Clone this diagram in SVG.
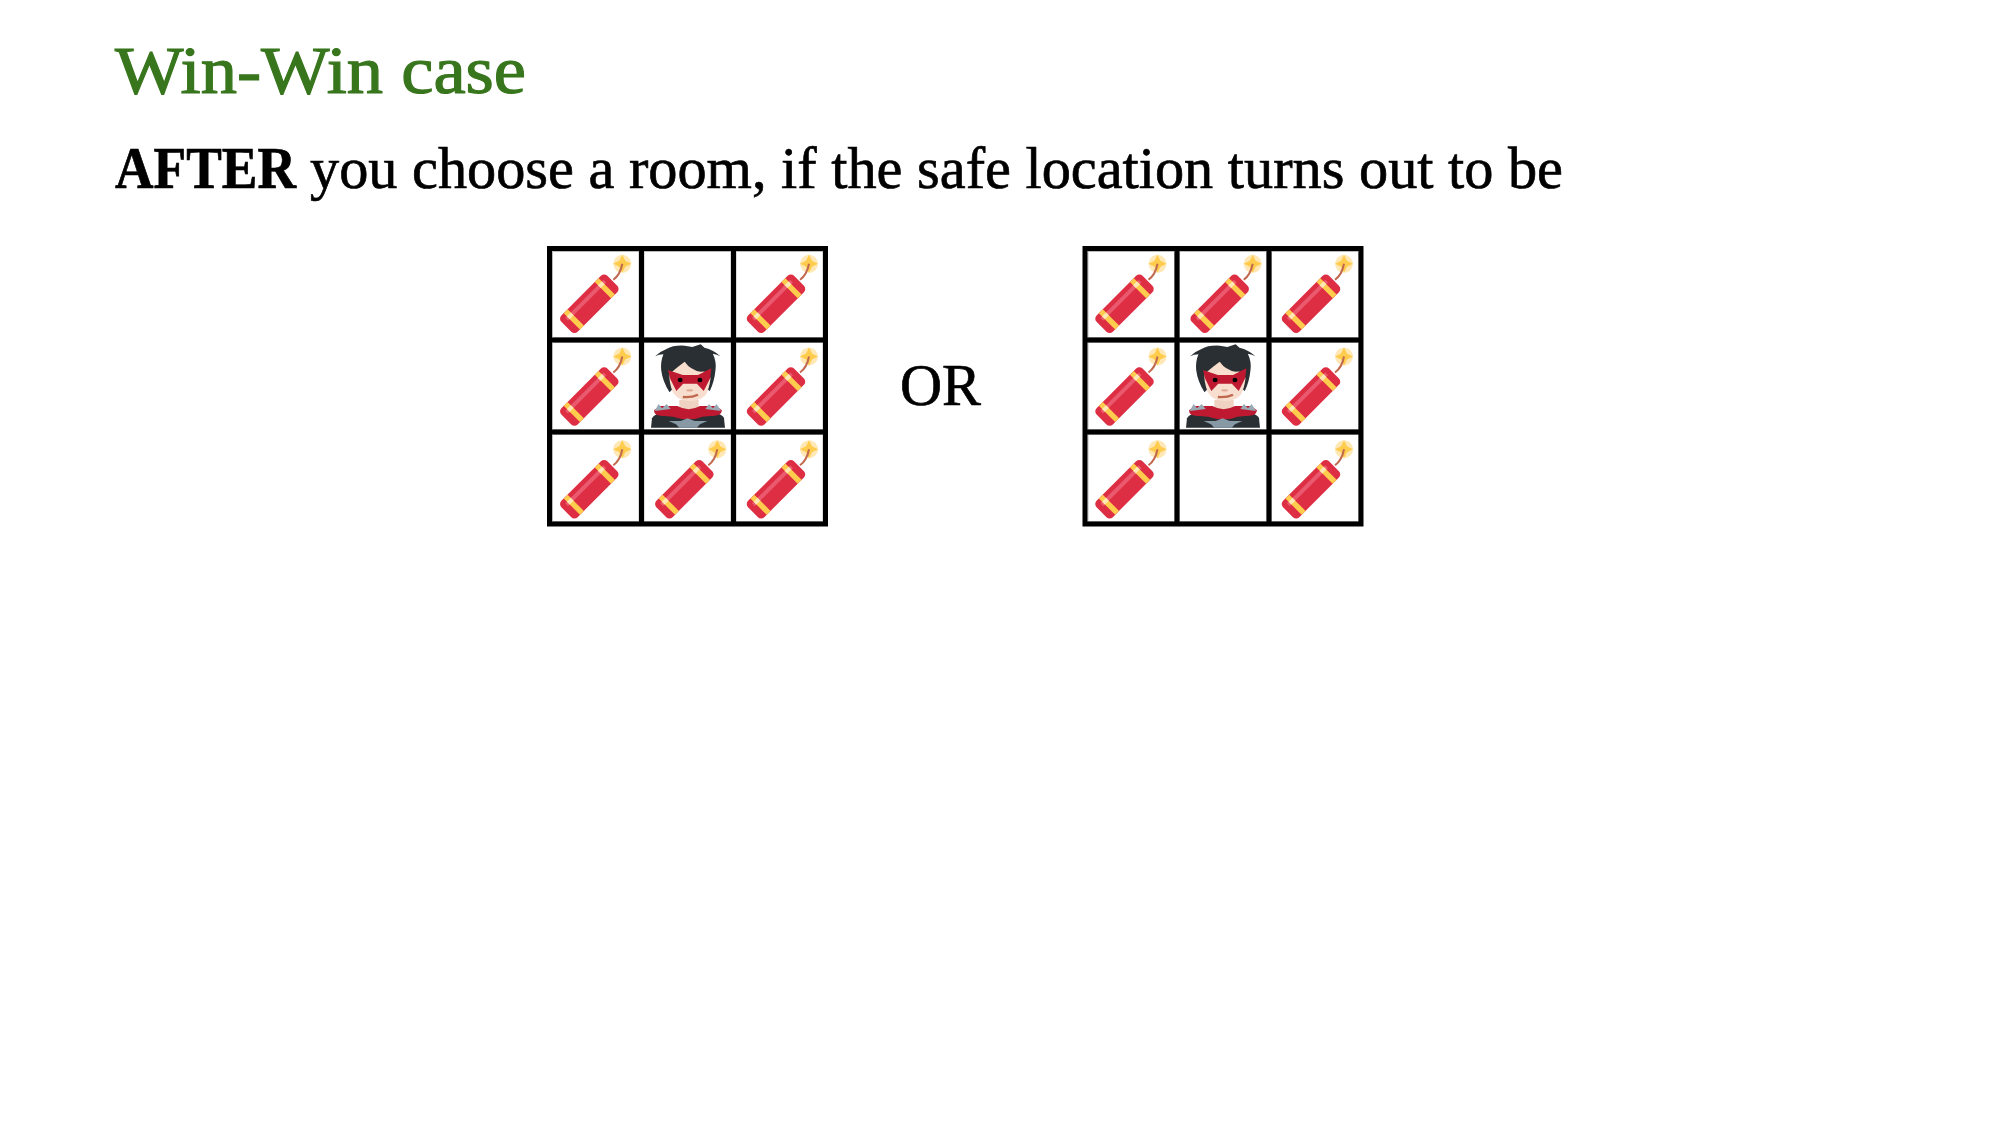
<svg xmlns="http://www.w3.org/2000/svg" width="2000" height="1125" viewBox="0 0 2000 1125">
<style>
text{font-family:"Liberation Serif","Times New Roman",serif;fill:#000}
.title{font-size:68px;fill:#38761d;stroke:#38761d;stroke-width:1.2px}
.body{font-size:60px;stroke:#000;stroke-width:.7px}
.b{font-weight:bold}
.grid{fill:none;stroke:#000;stroke-width:5}
.cell{fill:none;stroke:#bbb;stroke-width:1}
</style>
<defs>
<g id="dyn">
<circle cx="33" cy="-40" r="9" fill="#FFE8B6"/>
<path d="M33-49L36-43 42-40 36-37 33-31 30-37 24-40 30-43Z" fill="#FFCC4D"/>
<path d="M24-24Q31-29 33-40" fill="none" stroke="#C1694F" stroke-width="2"/>
<g transform="rotate(-45)">
<rect x="-32.500" y="-11.500" width="65" height="23" rx="4.500" fill="#DD2E44"/>
<rect x="-27" y="-7" width="54" height="4" fill="#EA596E"/>
<rect x="-24.700" y="-11.500" width="5.500" height="23" fill="#FFCC4D"/>
<rect x="19.200" y="-11.500" width="5.500" height="23" fill="#FFCC4D"/>
<rect x="-24.700" y="-7" width="5.500" height="4" fill="#FFE8B6"/>
<rect x="19.200" y="-7" width="5.500" height="4" fill="#FFE8B6"/>
</g>
</g>
<g id="hero" transform="translate(640,335) scale(.3333)">
<path d="M33 278L36 250Q42 235 85 228H200Q248 235 252 250L255 278Z" fill="#292F33"/>
<path d="M118 195H176V232H118Z" fill="#EFD2C2"/>
<path d="M42 226L60 213 112 213Q146 232 180 213L228 213 246 226Q244 244 215 243 190 242 165 252H125Q95 242 70 243 42 244 42 226Z" fill="#BE1931"/>
<path d="M44 228L56 207 66 220 80 207 92 222ZM196 222L207 207 219 220 230 207 243 228Z" fill="#99AAB5"/>
<path d="M86 258H122L143 250 164 258H202L180 268 170 278H118L108 268Z" fill="#8899A6"/>
<g transform="translate(149,0) scale(1.14,1) translate(-143,0)">
<path d="M52 64Q64 50 82 42 100 30 130 32L150 36 172 28 182 38Q206 44 224 64 215 58 204 56 214 80 211 105 208 140 196 168L186 160H100L90 172Q72 140 68 105 66 80 74 58 62 58 52 64Z" fill="#292F33"/>
<path d="M143 198Q112 198 98 170 88 140 90 118 100 105 130 80 145 105 172 110 192 105 198 130 194 165 185 180 170 198 143 198Z" fill="#F7DECE"/>
<path d="M86 105L125 120H165L200 100 197 130 180 168 162 146H126L108 168 92 132Z" fill="#BE1931"/>
<ellipse cx="118" cy="135" rx="6.500" ry="7" fill="#000"/>
<ellipse cx="170" cy="135" rx="6.500" ry="7" fill="#000"/>
<ellipse cx="143" cy="166" rx="9" ry="3.500" fill="#E0AA94"/>
<path d="M125 186Q148 188 165 179" fill="none" stroke="#C1694F" stroke-width="7"/>
</g>
</g>
<path id="lines" d="M549.500 248.500H825.500V524H549.500ZM641.500 248.500V524M733.500 248.500V524M549.500 340H825.500M549.500 432H825.500" class="grid"/>
<path id="cells" d="M552.500 251.500H639V337.500H552.500ZM644 251.500H731V337.500H644ZM736 251.500H823V337.500H736ZM552.500 342.500H639V429.500H552.500ZM644 342.500H731V429.500H644ZM736 342.500H823V429.500H736ZM552.500 434.500H639V521.500H552.500ZM644 434.500H731V521.500H644ZM736 434.500H823V521.500H736Z" class="cell"/>
</defs>
<g id="title"><text class="title" x="115" y="93" textLength="411" lengthAdjust="spacingAndGlyphs">Win-Win case</text></g>
<g id="subtitle"><text class="body b" x="115" y="188" textLength="181" lengthAdjust="spacingAndGlyphs">AFTER</text><text class="body" x="310" y="188" textLength="1253" lengthAdjust="spacingAndGlyphs">you choose a room, if the safe location turns out to be</text></g>
<g id="grid-left">
<use href="#cells"/><use href="#lines"/>
<use href="#dyn" x="589.300" y="303.800"/><use href="#dyn" x="776" y="303.800"/>
<use href="#dyn" x="589.300" y="396.500"/><use href="#hero"/><use href="#dyn" x="776" y="396.500"/>
<use href="#dyn" x="589.300" y="489.200"/><use href="#dyn" x="684.300" y="489.200"/><use href="#dyn" x="776" y="489.200"/>
</g>
<g id="or"><text class="body" x="900" y="405" textLength="81" lengthAdjust="spacingAndGlyphs">OR</text></g>
<g id="grid-right">
<g transform="translate(535.500,0)"><use href="#cells"/><use href="#lines"/></g>
<use href="#dyn" x="1124.500" y="303.800"/><use href="#dyn" x="1219.700" y="303.800"/><use href="#dyn" x="1311" y="303.800"/>
<use href="#dyn" x="1124.500" y="396.500"/><use href="#hero" x="535"/><use href="#dyn" x="1311" y="396.500"/>
<use href="#dyn" x="1124.500" y="489.200"/><use href="#dyn" x="1311" y="489.200"/>
</g>
</svg>
